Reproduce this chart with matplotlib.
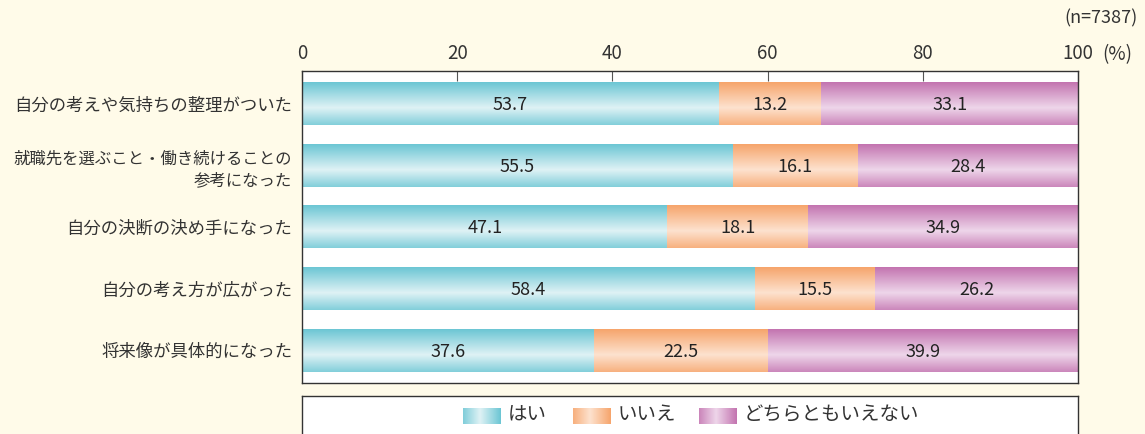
import matplotlib

matplotlib.use("Agg")
import matplotlib.pyplot as plt  # noqa: E402
import numpy as np  # noqa: E402
from matplotlib.colors import to_rgb  # noqa: E402

plt.rcParams["font.family"] = ["Noto Sans CJK JP", "DejaVu Sans"]

categories = [
    "自分の考えや気持ちの整理がついた",
    "就職先を選ぶこと・働き続けることの\n参考になった",
    "自分の決断の決め手になった",
    "自分の考え方が広がった",
    "将来像が具体的になった",
]
yes = [53.7, 55.5, 47.1, 58.4, 37.6]
no = [13.2, 16.1, 18.1, 15.5, 22.5]
neither = [33.1, 28.4, 34.9, 26.2, 39.9]
series_names = ["はい", "いいえ", "どちらともいえない"]
xticks = [0, 20, 40, 60, 80, 100]

BG = "#fffbe9"
TXT = "#333333"
# (dark edge colour, light centre colour)
PALETTE = [("#6cc6d4", "#dff2f5"), ("#f6a56c", "#fde2cf"), ("#c374b0", "#eed6ea")]


def vgrad(dark, light, n=64):
    t = np.linspace(0, 1, n)
    # dark at top, lightest a bit below the middle, darker again at the bottom
    w = np.where(t < 0.6, t / 0.6, 1 - (t - 0.6) / 0.4 * 0.8)
    w = np.clip(w, 0, 1)[:, None]
    d, l = np.array(to_rgb(dark)), np.array(to_rgb(light))
    return (d * (1 - w) + l * w)[:, None, :]


def hgrad(dark, light, n=64):
    t = np.linspace(0, 1, n)
    w = 1 - np.abs(t - 0.45) / 0.55
    w = np.clip(w, 0, 1)[None, :, None]
    d, l = np.array(to_rgb(dark)), np.array(to_rgb(light))
    return d * (1 - w) + l * w


fig = plt.figure(figsize=(11.45, 4.34), dpi=100, facecolor=BG)
ax = fig.add_axes([302 / 1145, 1 - 383 / 434, 776 / 1145, 312 / 434])
ax.set_facecolor("white")

h = 0.69
for i in range(len(categories)):
    left = 0.0
    for k, vals in enumerate([yes, no, neither]):
        v = vals[i]
        dark, light = PALETTE[k]
        ax.imshow(vgrad(dark, light), extent=(left, left + v, i + h / 2, i - h / 2),
                  aspect="auto", interpolation="bilinear", zorder=2)
        ax.text(left + v / 2, i + 0.02, f"{v:.1f}", ha="center", va="center",
                fontsize=13, color="#222222", zorder=3)
        left += v

ax.set_xlim(0, 100)
ax.set_ylim(len(categories) - 0.47, -0.53)
ax.xaxis.tick_top()
ax.set_xticks(xticks)
ax.set_xticklabels([str(t) for t in xticks])
ax.tick_params(axis="x", direction="in", length=7, width=0.8, colors="#555555",
               labelcolor=TXT, labelsize=13.5, pad=5)
ax.set_yticks(range(len(categories)))
ax.set_yticklabels(categories, fontsize=12.5, color=TXT, linespacing=1.35)
ax.get_yticklabels()[1].set_fontsize(11.8)  # long label, squeeze to fit
ax.tick_params(axis="y", length=0, pad=7)
for s in ax.spines.values():
    s.set_color("#333333")
    s.set_linewidth(1.0)

fig.text(1102 / 1145, 1 - 55 / 434, "(%)", ha="left", va="center", fontsize=13.5, color=TXT)
fig.text(1138 / 1145, 1 - 18 / 434, "(n=7387)", ha="right", va="center", fontsize=13, color=TXT)

# legend box (bottom edge cut off by the figure)
lax = fig.add_axes([302 / 1145, -0.05, 776 / 1145, 1 - 396 / 434 + 0.05])
lax.set_facecolor("white")
lax.set_xlim(302, 1078)
lax.set_ylim(434 + 0.05 * 434, 396)
lax.set_xticks([])
lax.set_yticks([])
for s in lax.spines.values():
    s.set_color("#333333")
    s.set_linewidth(1.0)
swatch_x = [463, 573, 699]
for k, name in enumerate(series_names):
    dark, light = PALETTE[k]
    x0 = swatch_x[k]
    lax.imshow(hgrad(dark, light), extent=(x0, x0 + 38, 424, 408),
               aspect="auto", interpolation="bilinear")
    lax.text(x0 + 45, 415, name, ha="left", va="center", fontsize=14, color=TXT)

fig.savefig("out.png", dpi=100, facecolor=BG)
